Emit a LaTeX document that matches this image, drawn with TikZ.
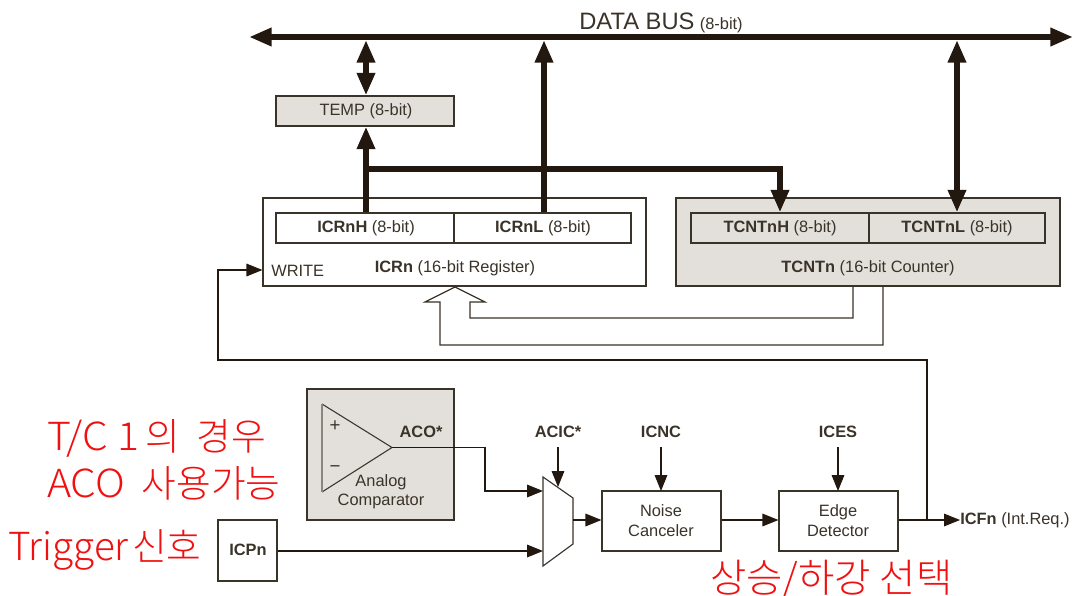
\documentclass[tikz,border=0pt]{standalone}
\usepackage{fontspec}
\setmainfont{Liberation Sans}
\newfontfamily\krfont{Noto Sans CJK KR Light}
\newfontfamily\redlatin[FakeStretch=1.06]{Noto Sans CJK KR Light}
\newcommand{\kr}[1]{{\krfont\fontsize{28.3}{30}\selectfont #1}}
\usetikzlibrary{arrows.meta,calc}
\definecolor{ink}{HTML}{3A3329}
\definecolor{bar}{HTML}{231810}
\definecolor{greyfill}{HTML}{E3E0DB}
\definecolor{redtext}{HTML}{F01010}
\tikzset{
  x=0.75pt,y=-0.75pt,
  wd/.style={minimum width=#1*0.75pt},
  ht/.style={minimum height=#1*0.75pt},
  box/.style={draw=ink,line width=0.85pt,inner sep=0pt,anchor=center,text=ink},
  grey/.style={box,fill=greyfill},
  lbl/.style={inner sep=0pt,text=ink,font=\fontsize{12.3}{13}\selectfont},
  boldlbl/.style={inner sep=0pt,text=ink,font=\fontsize{12.3}{13}\selectfont\bfseries},
  twolbl/.style={inner sep=0pt,text=ink,align=center,font=\fontsize{12.3}{15}\selectfont},
  redlbl/.style={inner sep=0pt,text=redtext,anchor=west,font=\fontsize{29}{32}\selectfont\krfont},
  thick bar/.style={draw=bar,line width=4.6pt},
  thin line/.style={draw=ink,line width=0.85pt},
  bighead/.style={-{Triangle[width=13pt,length=17pt]}},
  bigboth/.style={{Triangle[width=13pt,length=17pt]}-{Triangle[width=13pt,length=17pt]}},
  thinhead/.style={-{Triangle[width=9.5pt,length=12pt]},draw=bar,line width=0.85pt},
}
\begin{document}
\begin{tikzpicture}
\useasboundingbox (0,0) rectangle (1072,596);
\fill[white] (0,0) rectangle (1072,596);
% boxes
\node[grey,wd=178,ht=30] (temp) at (365,111) {};
\node[lbl] at (366,111) {TEMP (8-bit)};
\node[box,wd=383,ht=88] (icr) at (454.5,242) {};
\node[box,wd=178,ht=30] (icrh) at (365,228) {};
\node[box,wd=177,ht=30] (icrl) at (542.5,228) {};
\node[lbl] at (366,228) {\textbf{ICRnH} (8-bit)};
\node[lbl] at (543,228) {\textbf{ICRnL} (8-bit)};
\node[lbl,anchor=west] at (271,271) {WRITE};
\node[lbl] at (455,268) {\textbf{ICRn} (16-bit Register)};
\node[grey,wd=384,ht=88] (tcnt) at (868,242) {};
\node[box,wd=178,ht=30] (tcnth) at (780,228) {};
\node[box,wd=176,ht=30] (tcntl) at (957,228) {};
\node[lbl] at (780,228) {\textbf{TCNTnH} (8-bit)};
\node[lbl] at (957,228) {\textbf{TCNTnL} (8-bit)};
\node[lbl] at (868,268) {\textbf{TCNTn} (16-bit Counter)};
\node[grey,wd=147,ht=131] (comp) at (380.5,454.5) {};
\node[twolbl,font=\fontsize{12.3}{14}\selectfont] (complbl) at (381,492) {Analog\\Comparator};
\node[boldlbl] (aco) at (421,432) {ACO*};
\node[box,wd=59,ht=61] (icp) at (247.5,550.5) {};
\node[boldlbl] at (248,550) {ICPn};
\node[box,wd=119,ht=60] (noise) at (661.5,521) {};
\node[twolbl] at (661,521) {Noise\\Canceler};
\node[box,wd=119,ht=60] (edge) at (838.5,521) {};
\node[twolbl] at (838,521) {Edge\\Detector};
\node[boldlbl] (acic) at (558,432) {ACIC*};
\node[boldlbl] (icnc) at (661,432) {ICNC};
\node[boldlbl] (ices) at (838,432) {ICES};
\node[lbl,anchor=west] (icf) at (960,520) {\textbf{ICFn} (Int.Req.)};
% bus
\coordinate (busL) at (249,37);
\coordinate (busR) at (1073,37);
\draw[thick bar,bigboth] (busL) -- (busR);
\node[inner sep=0pt,text=ink,anchor=center] at (661,23) {{\fontsize{17.8}{18}\selectfont DATA BUS}\hspace{4pt}{\fontsize{12.3}{13}\selectfont (8-bit)}};
% thick arrows
\coordinate (t1) at (366,40);
\coordinate (t2) at (544,40);
\coordinate (t3) at (957,40);
\draw[thick bar,bigboth] (t1) -- (temp.north -| t1);
\draw[thick bar,bighead] (icrh.north -| t1) -- (temp.south -| t1);
\draw[thick bar,bighead] (icrl.north -| t2) -- (t2);
\draw[thick bar,bigboth] (t3) -- (tcntl.north -| t3);
\coordinate (jn) at (366,169);
\draw[thick bar,bighead] (jn) -- (jn -| tcnth.north) -- (tcnth.north);
% hollow arrow
\coordinate (tipp) at (455,287);
\coordinate (t4) at (853,286);
\coordinate (t5) at (883,286);
\draw[thin line,line join=miter] (t4) -- (853,318) -- (470,318) -- (470,302) -- (485,302) -- (tipp) -- (425,302) -- (440,302) -- (440,345) -- (883,345) -- (t5);
% write feedback
\coordinate (fb) at (927,520);
\draw[thinhead] (fb) -- (927,360) -- (218,360) -- (218,270) -- (icr.west |- 0,270);
% comparator
\coordinate (ta) at (322,404);
\coordinate (tb) at (322,492);
\coordinate (tc) at (392,447.5);
\draw[draw=ink,line width=0.8pt] (tb) -- (tc) -- (ta);
\draw[draw=ink!60,line width=1.6pt] (ta) -- (tb);
\node[lbl,font=\fontsize{14}{15}\selectfont] at (335,426) {+};
\node[lbl,font=\fontsize{14}{15}\selectfont] at (335,469) {−};
% mux
\coordinate (m1) at (543,477);
\coordinate (m2) at (573,498);
\coordinate (m3) at (573,544);
\coordinate (m4) at (543,566);
\draw[thin line,fill=white] (m1) -- (m2) -- (m3) -- (m4) -- cycle;
\draw[thinhead] (tc) -- (485,447.5) -- (485,491) -- (543,491);
\draw[thinhead] (icp.east |- 0,551) -- (543,551);
\draw[thinhead] (558,447) -- (558,487);
\draw[thinhead] (573,520) -- (noise.west |- 0,520);
\draw[thinhead] (noise.east |- 0,520) -- (edge.west |- 0,520);
\draw[thinhead] (661,447) -- (661,491);
\draw[thinhead] (838,447) -- (838,491);
\draw[thinhead] (edge.east |- 0,520) -- (icf.west);
% red annotations
\node[redlbl] at (47,438) {{\redlatin T/C 1}\hspace{5pt}\kr{의\hspace{6pt} 경우}};
\node[redlbl] at (47,483) {{\redlatin ACO}\hspace{6pt} \kr{사용가능}};
\node[redlbl] at (8,550) {Trigger\hspace{2.5pt}\kr{신호}};
\node[redlbl,font=\fontsize{29.6}{32}\selectfont\krfont,text depth=0pt,text height=0pt,anchor=base west] at (710,592) {상승/하강 선택};
\end{tikzpicture}
\end{document}
